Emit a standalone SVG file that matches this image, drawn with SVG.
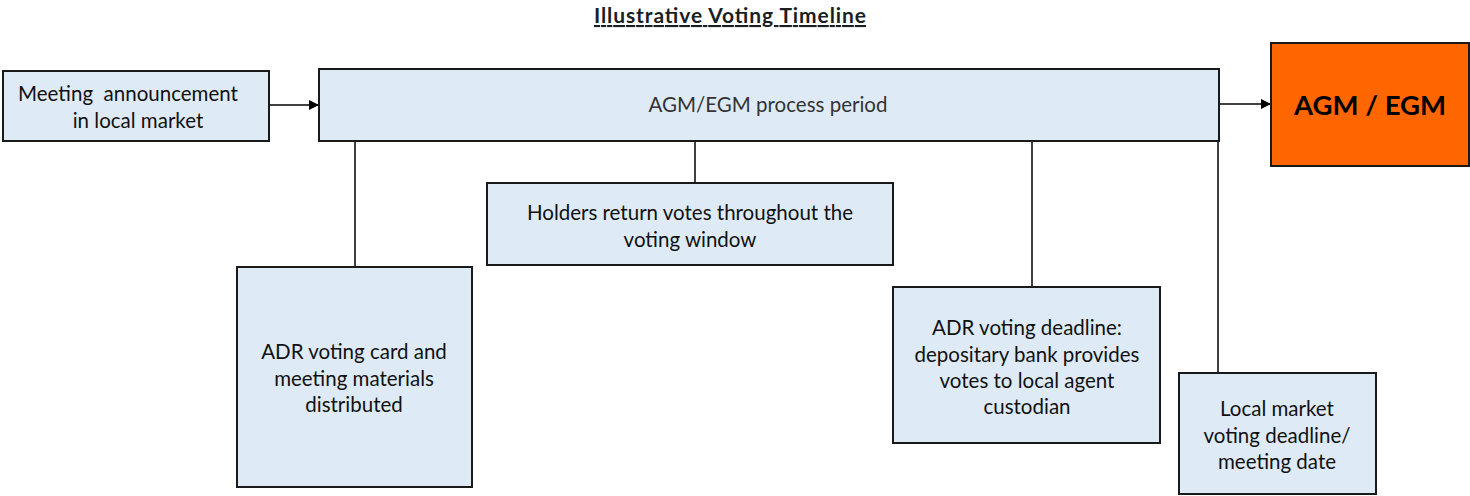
<svg xmlns="http://www.w3.org/2000/svg" width="1470" height="496" viewBox="0 0 1470 496">
<style>
.box{fill:#deebf7;stroke:#1a1a1a;stroke-width:2}
.t{font-family:Lato,"Liberation Sans",sans-serif;font-size:20.5px;fill:#111;text-anchor:middle}
.c{stroke:#000;stroke-width:1.5;fill:none}
</style>
<defs>
<marker id="ah" markerWidth="10" markerHeight="10" refX="9" refY="5" orient="auto" markerUnits="userSpaceOnUse" viewBox="0 0 10 10">
<path d="M0,0 L10,5 L0,10 Z" fill="#000"/>
</marker>
</defs>
<rect width="1470" height="496" fill="#fff"/>
<text x="730" y="23" font-family="Lato,'Liberation Sans',sans-serif" font-size="21" font-weight="bold" text-anchor="middle" text-decoration="underline" fill="#1a1f24" textLength="272" lengthAdjust="spacing">Illustrative Voting Timeline</text>

<g id="connectors">
<line class="c" x1="269" y1="105" x2="318" y2="105" marker-end="url(#ah)"/>
<line class="c" x1="1219" y1="104" x2="1270" y2="104" marker-end="url(#ah)"/>
<line class="c" x1="355" y1="141" x2="355" y2="267"/>
<line class="c" x1="695" y1="141" x2="695" y2="183"/>
<line class="c" x1="1032" y1="141" x2="1032" y2="287"/>
<line class="c" x1="1218" y1="141" x2="1218" y2="373"/>
</g>

<g id="announcement">
<rect class="box" x="3" y="71" width="266" height="70"/>
<text class="t" xml:space="preserve"><tspan x="128" y="101">Meeting  announcement</tspan><tspan x="138" y="128">in local market</tspan></text>
</g>

<g id="process">
<rect class="box" x="319" y="69" width="900" height="72"/>
<text class="t" x="768" y="112" style="fill:#333">AGM/EGM process period</text>
</g>

<g id="agm">
<rect x="1271" y="43" width="198" height="123" fill="#ff6600" stroke="#1a1a1a" stroke-width="2"/>
<text x="1370" y="115" font-family="Lato,'Liberation Sans',sans-serif" font-size="27.5" font-weight="bold" text-anchor="middle" fill="#000">AGM / EGM</text>
</g>

<g id="cards">
<rect class="box" x="237" y="267" width="235" height="220"/>
<text class="t"><tspan x="354" y="359">ADR voting card and</tspan><tspan x="354" y="386">meeting materials</tspan><tspan x="354" y="412">distributed</tspan></text>
</g>

<g id="holders">
<rect class="box" x="487" y="183" width="406" height="82"/>
<text class="t"><tspan x="690" y="220">Holders return votes throughout the</tspan><tspan x="690" y="247">voting window</tspan></text>
</g>

<g id="adr-deadline">
<rect class="box" x="893" y="287" width="267" height="156"/>
<text class="t"><tspan x="1027" y="335">ADR voting deadline:</tspan><tspan x="1027" y="362">depositary bank provides</tspan><tspan x="1027" y="388">votes to local agent</tspan><tspan x="1027" y="414">custodian</tspan></text>
</g>

<g id="local-deadline">
<rect class="box" x="1179" y="373" width="197" height="121"/>
<text class="t"><tspan x="1277" y="416">Local market</tspan><tspan x="1277" y="443">voting deadline/</tspan><tspan x="1277" y="469">meeting date</tspan></text>
</g>
</svg>
